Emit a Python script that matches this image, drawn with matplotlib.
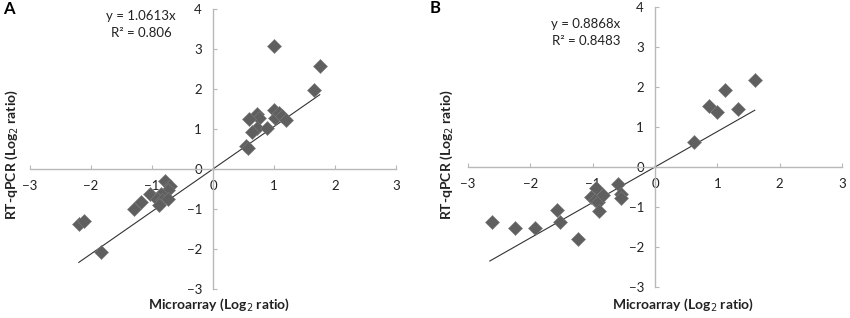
import matplotlib
matplotlib.use("Agg")
import matplotlib.pyplot as plt
import numpy as np

plt.rcParams['font.family'] = ['Lato', 'DejaVu Sans']

# Panel A data
a_x = [1.00, 1.75, 1.65, 1.00, 1.02, 1.08, 1.13, 1.20, 0.72, 0.76, 0.59, 0.72, 0.64, 0.89, 0.54, 0.58,
       -0.78, -0.70, -0.73, -1.03, -0.86, -0.92, -0.84, -0.73, -0.89, -1.18, -1.30, -2.19, -2.11, -1.84]
a_y = [3.07, 2.58, 1.97, 1.47, 1.27, 1.40, 1.33, 1.23, 1.38, 1.28, 1.24, 1.03, 0.93, 1.03, 0.58, 0.52,
       -0.30, -0.43, -0.53, -0.62, -0.63, -0.76, -0.78, -0.76, -0.90, -0.83, -0.99, -1.37, -1.30, -2.07]
a_slope = 1.0613
a_line_x = [-2.2, 1.75]
a_eq = ["y = 1.0613x", "R² = 0.806"]

# Panel B data
b_x = [1.60, 1.12, 0.86, 0.99, 1.33, 0.63,
       -0.60, -0.55, -0.55, -0.95, -1.02, -0.97, -0.92, -0.83, -0.90, -1.58, -1.53, -1.23, -2.62, -2.24, -1.93]
b_y = [2.18, 1.93, 1.52, 1.38, 1.46, 0.63,
       -0.42, -0.67, -0.77, -0.52, -0.75, -0.83, -0.88, -0.71, -1.10, -1.07, -1.38, -1.79, -1.38, -1.53, -1.53]
b_slope = 0.8868
b_line_x = [-2.65, 1.6]
b_eq = ["y = 0.8868x", "R² = 0.8483"]

x_ticks = [-3, -2, -1, 0, 1, 2, 3]
y_ticks = [-3, -2, -1, 0, 1, 2, 3, 4]

W, H = 850, 318
fig = plt.figure(figsize=(W / 100, H / 100), dpi=100)


def make_panel(rect, xs, ys, slope, line_x, eq, letter, letter_pos, eq_pos, ylab_x, xlab_x):
    ax = fig.add_axes(rect)
    ax.set_xlim(-3, 3)
    ax.set_ylim(-3, 4)
    for s in ['top', 'right']:
        ax.spines[s].set_visible(False)
    ax.spines['left'].set_position(('data', 0))
    ax.spines['bottom'].set_position(('data', 0))
    for s in ['left', 'bottom']:
        ax.spines[s].set_color('#b8b8b8')
        ax.spines[s].set_linewidth(1.0)
    ax.set_xticks(x_ticks)
    ax.set_yticks(y_ticks)
    ax.tick_params(axis='x', direction='in', length=3, color='#b8b8b8', labelsize=9.5,
                   labelcolor='#222222', pad=8)
    ax.tick_params(axis='y', direction='in', length=3, color='#b8b8b8', labelsize=9.5,
                   labelcolor='#222222', pad=8)
    lx = np.array(line_x)
    ax.plot(lx, slope * lx, color='#333333', lw=0.8, zorder=2)
    ax.plot(xs, ys, linestyle='none', marker='D', ms=6.8, color='#5f5f5f',
            markeredgecolor='#7a7a7a', markeredgewidth=0.4, zorder=3)
    fig.text(letter_pos[0] / W, 1 - letter_pos[1] / H, letter, fontsize=12, fontweight='bold',
             ha='left', va='center')
    fig.text(eq_pos[0] / W, 1 - eq_pos[1] / H, eq[0], fontsize=9.5, ha='center', va='center',
             color='#222222')
    fig.text(eq_pos[0] / W, 1 - (eq_pos[1] + 17) / H, eq[1], fontsize=9.5, ha='center', va='center',
             color='#222222')
    fig.text(ylab_x / W, 1 - 155 / H, "RT-qPCR (Log$_2$ ratio)", rotation=90, fontsize=10,
             fontweight='bold', ha='center', va='center', color='#222222')
    fig.text(xlab_x / W, 1 - 305 / H, "Microarray (Log$_2$ ratio)", fontsize=10,
             fontweight='bold', ha='center', va='center', color='#222222')
    return ax


make_panel([30 / W, (H - 289) / H, 366 / W, 280 / H], a_x, a_y, a_slope, a_line_x, a_eq,
           "A", (3, 9), (141, 16), 12, 219)
make_panel([468 / W, (H - 287) / H, 374 / W, 280 / H], b_x, b_y, b_slope, b_line_x, b_eq,
           "B", (430, 8), (586, 24), 447, 683)

fig.savefig("out.png", dpi=100)
